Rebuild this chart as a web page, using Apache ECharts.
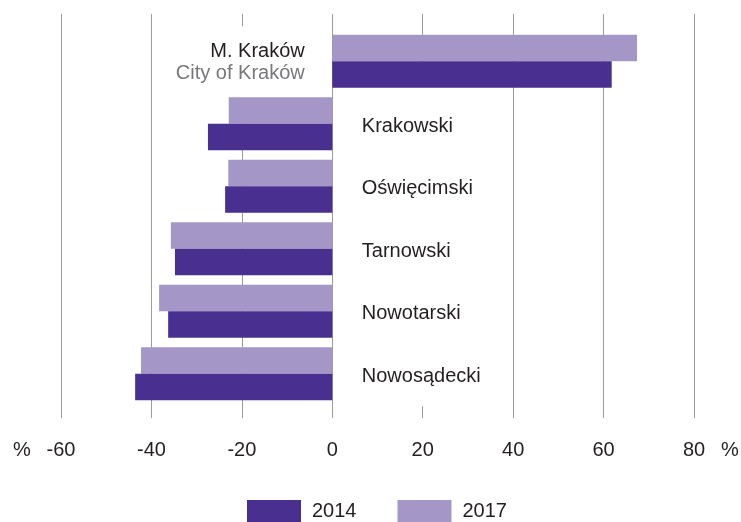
<!DOCTYPE html>
<html><head><meta charset="utf-8">
<script src="https://cdn.jsdelivr.net/npm/echarts@6/dist/echarts.min.js"></script>
<style>html,body{margin:0;padding:0;background:#fff}#c{width:741px;height:522px}</style>
</head><body><div id="c"></div>
<script>
const categories = ['M. Kraków', 'Krakowski', 'Oświęcimski', 'Tarnowski', 'Nowotarski', 'Nowosądecki'];
const subtitles = ['City of Kraków', '', '', '', '', ''];
const values2014 = [61.8, -27.5, -23.7, -34.8, -36.3, -43.6];
const values2017 = [67.4, -22.9, -23.0, -35.7, -38.3, -42.3];
const seriesNames = ['2014', '2017'];
const axisMin = -60, axisMax = 80, axisStep = 20;
const unitLabel = '%';

const FONT = "'Liberation Sans', Arial, sans-serif";
const DARK = '#482f90', LIGHT = '#a497c8', TEXT = '#231f20', GRAY = '#77787b', GRID = '#9a9a9a';

const labelData = categories.map((c, i) => {
  const positive = values2014[i] + values2017[i] >= 0;
  return {
    value: [0, c],
    label: positive ? {
      position: 'left', distance: 21, align: 'right',
      padding: [14, 6, 15, 10], offset: [0, 1.5]
    } : {
      position: 'right', distance: 23, align: 'left',
      padding: [28, 8, 19, 6], offset: [0, -2]
    }
  };
});

const chart = echarts.init(document.getElementById('c'), null, {renderer: 'canvas'});
chart.setOption({
  backgroundColor: '#fff',
  animation: false,
  textStyle: {fontFamily: FONT},
  grid: [
    {left: 61, right: 47, top: 30, height: 375},
    {left: 61, right: 47, top: 14, bottom: 104}
  ],
  xAxis: [
    {gridIndex: 0, type: 'value', min: axisMin, max: axisMax, interval: axisStep, show: false},
    {gridIndex: 1, type: 'value', min: axisMin, max: axisMax, interval: axisStep,
     axisLine: {show: false}, axisTick: {show: false},
     splitLine: {show: true, lineStyle: {color: GRID, width: 1}},
     axisLabel: {margin: 22, color: TEXT, fontSize: 20, fontFamily: FONT}}
  ],
  yAxis: [
    {gridIndex: 0, type: 'category', data: categories, inverse: true, show: false},
    {gridIndex: 1, type: 'value', show: false, splitLine: {show: false}}
  ],
  legend: {
    data: [{name: seriesNames[0], icon: 'rect'}, {name: seriesNames[1], icon: 'rect'}],
    left: 247, top: 500, padding: 0, itemWidth: 54, itemHeight: 22, itemGap: 41,
    textStyle: {fontSize: 20, color: TEXT, fontFamily: FONT, padding: [0, 0, 0, 6]},
    selectedMode: false
  },
  graphic: [
    {type: 'text', left: 13, top: 440, style: {text: unitLabel, font: '20px ' + FONT, fill: TEXT}},
    {type: 'text', left: 721, top: 440, style: {text: unitLabel, font: '20px ' + FONT, fill: TEXT}}
  ],
  series: [
    {name: seriesNames[1], type: 'bar', xAxisIndex: 0, yAxisIndex: 0, data: values2017,
     itemStyle: {color: LIGHT}, barGap: 0, barCategoryGap: '15%', silent: true, z: 2},
    {name: seriesNames[0], type: 'bar', xAxisIndex: 0, yAxisIndex: 0, data: values2014,
     itemStyle: {color: DARK}, barGap: 0, barCategoryGap: '15%', silent: true, z: 2},
    {type: 'scatter', xAxisIndex: 0, yAxisIndex: 0, data: labelData, symbolSize: 1,
     itemStyle: {color: 'rgba(0,0,0,0)', opacity: 1}, silent: true, z: 1,
     label: {
       show: true, backgroundColor: '#ffffff', color: TEXT, fontFamily: FONT, opacity: 1,
       formatter: p => {
         const i = categories.indexOf(p.value[1]);
         return subtitles[i] ? '{a|' + p.value[1] + '}\n{b|' + subtitles[i] + '}' : '{a|' + p.value[1] + '}';
       },
       rich: {
         a: {fontSize: 20, color: TEXT, lineHeight: 22, fontFamily: FONT},
         b: {fontSize: 20, color: GRAY, lineHeight: 22, fontFamily: FONT}
       }
     }}
  ]
});
</script></body></html>
